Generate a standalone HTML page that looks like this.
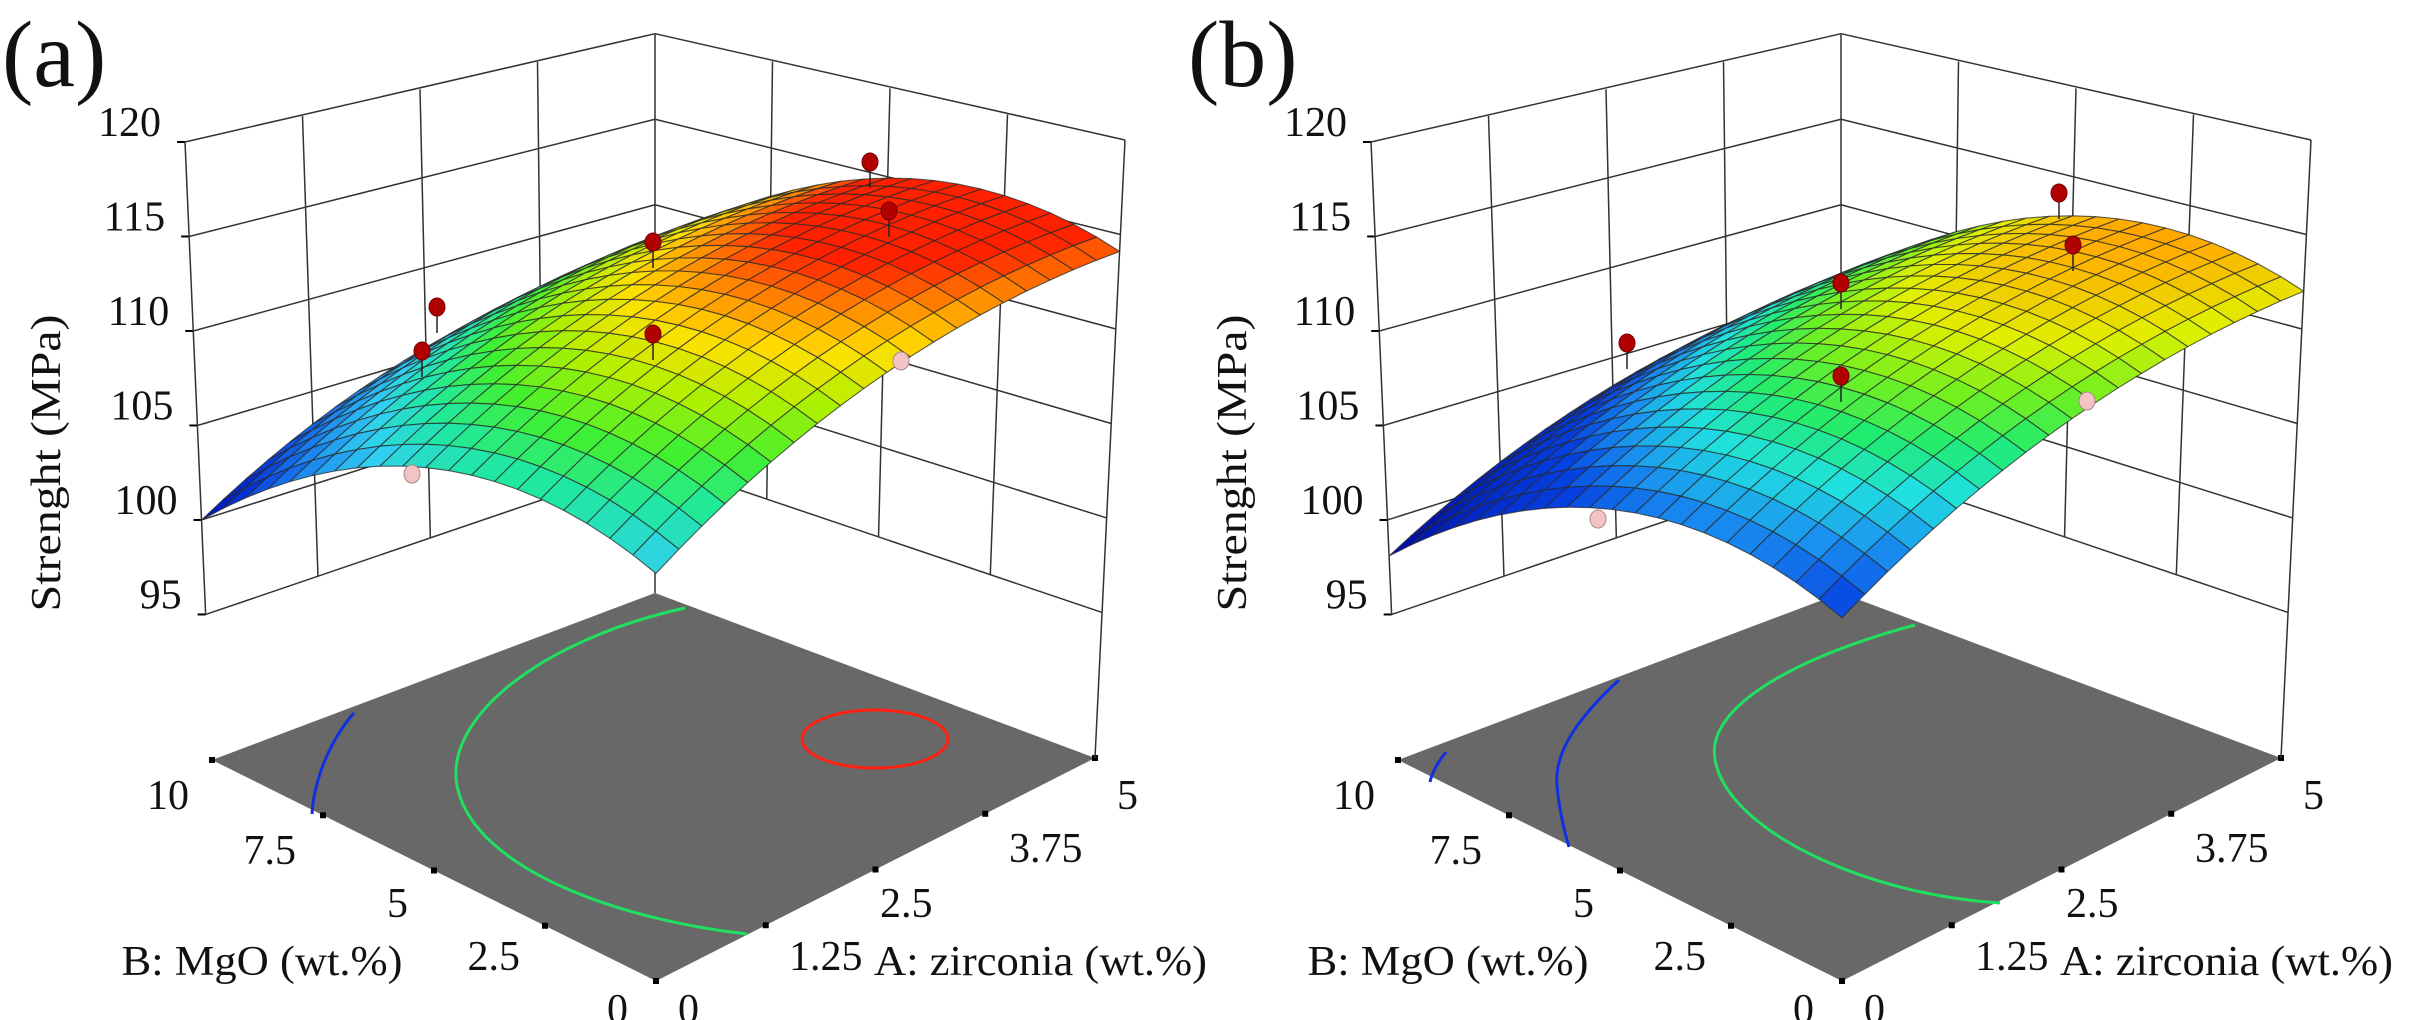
<!DOCTYPE html>
<html><head><meta charset="utf-8"><style>
html,body{margin:0;padding:0;background:#fff;}
svg{display:block;}
text{font-family:"Liberation Serif","DejaVu Serif",serif;fill:#111;}
</style></head><body>
<svg id="s" width="2414" height="1020" viewBox="0 0 2414 1020" xmlns="http://www.w3.org/2000/svg" font-family="Liberation Serif, DejaVu Serif, serif">
<g id="pa">
<text x="2" y="86" font-size="94">(a)</text>
<text x="262" y="975" font-size="42" text-anchor="middle" textLength="281" lengthAdjust="spacingAndGlyphs">B: MgO (wt.%)</text>
<text x="874" y="975" font-size="42" textLength="333" lengthAdjust="spacingAndGlyphs">A: zirconia (wt.%)</text>
<text transform="translate(60,463) rotate(-90)" font-size="42" text-anchor="middle" textLength="297" lengthAdjust="spacingAndGlyphs">Strenght (MPa)</text>
<text x="628" y="1023" font-size="42" text-anchor="end">0</text>
<text x="520" y="970" font-size="42" text-anchor="end">2.5</text>
<text x="408" y="917" font-size="42" text-anchor="end">5</text>
<text x="296" y="864" font-size="42" text-anchor="end">7.5</text>
<text x="189" y="809" font-size="42" text-anchor="end">10</text>
<text x="678" y="1023" font-size="42">0</text>
<text x="789" y="970" font-size="42">1.25</text>
<text x="880" y="917" font-size="42">2.5</text>
<text x="1009" y="862" font-size="42">3.75</text>
<text x="1117" y="809" font-size="42">5</text>
</g>
<g id="pb" transform="translate(1186,0)">
<text x="2" y="86" font-size="94">(b)</text>
<text x="262" y="975" font-size="42" text-anchor="middle" textLength="281" lengthAdjust="spacingAndGlyphs">B: MgO (wt.%)</text>
<text x="874" y="975" font-size="42" textLength="333" lengthAdjust="spacingAndGlyphs">A: zirconia (wt.%)</text>
<text transform="translate(60,463) rotate(-90)" font-size="42" text-anchor="middle" textLength="297" lengthAdjust="spacingAndGlyphs">Strenght (MPa)</text>
<text x="628" y="1023" font-size="42" text-anchor="end">0</text>
<text x="520" y="970" font-size="42" text-anchor="end">2.5</text>
<text x="408" y="917" font-size="42" text-anchor="end">5</text>
<text x="296" y="864" font-size="42" text-anchor="end">7.5</text>
<text x="189" y="809" font-size="42" text-anchor="end">10</text>
<text x="678" y="1023" font-size="42">0</text>
<text x="789" y="970" font-size="42">1.25</text>
<text x="880" y="917" font-size="42">2.5</text>
<text x="1009" y="862" font-size="42">3.75</text>
<text x="1117" y="809" font-size="42">5</text>
</g>
</svg>
<script>
(function(){
var NS="http://www.w3.org/2000/svg";
var F=[656,981],L=[212,760],R=[1095,758],K=[655,593];
function fl(A,B){var a=A/5,b=B/10;
 return [(1-a)*(1-b)*F[0]+(1-a)*b*L[0]+a*(1-b)*R[0]+a*b*K[0],
         (1-a)*(1-b)*F[1]+(1-a)*b*L[1]+a*(1-b)*R[1]+a*b*K[1]];}
function P(A,B,z){var f=fl(A,B),a=A/5,b=B/10,u=(a+b)/2,s=18.9/(0.895+0.21*u),h=z-87.3;
 var dx=(-27*b*(1-a)+30*a*(1-b))*h/32.7;return [f[0]+dx,f[1]-h*s];}
function el(g,n,at){var e=document.createElementNS(NS,n);for(var k in at)e.setAttribute(k,at[k]);g.appendChild(e);return e;}
function hex(c){return [parseInt(c.substr(1,2),16),parseInt(c.substr(3,2),16),parseInt(c.substr(5,2),16)];}
function cmap(stops,z){if(z<=stops[0][0])return stops[0][1];var n=stops.length;if(z>=stops[n-1][0])return stops[n-1][1];
 for(var i=0;i<n-1;i++){if(z>=stops[i][0]&&z<=stops[i+1][0]){var t=(z-stops[i][0])/(stops[i+1][0]-stops[i][0]);var c1=hex(stops[i][1]),c2=hex(stops[i+1][1]);
 return "rgb("+Math.round(c1[0]+(c2[0]-c1[0])*t)+","+Math.round(c1[1]+(c2[1]-c1[1])*t)+","+Math.round(c1[2]+(c2[2]-c1[2])*t)+")";}}}
function pts(a){return a.map(function(p){return p[0].toFixed(1)+","+p[1].toFixed(1);}).join(" ");}
function line(g,p,q,w,c){el(g,"line",{x1:p[0],y1:p[1],x2:q[0],y2:q[1],stroke:c||"#333","stroke-width":w||1.5});}
function panel(id,fz,stops,contours,reds,pinks){
 var g=document.getElementById(id);
 var bg=document.createElementNS(NS,"g");
 var sg=document.createElementNS(NS,"g");
 g.insertBefore(sg,g.firstChild);g.insertBefore(bg,sg);
 el(bg,"polygon",{points:pts([F,L,K,R]),fill:"#686868"});
 contours.forEach(function(c){el(bg,"path",{d:c[0],fill:"none",stroke:c[1],"stroke-width":3});});
 [2.5,5,7.5].forEach(function(B){var p=fl(0,B);el(bg,"rect",{x:p[0]-3,y:p[1]-3,width:6,height:6,fill:"#000"});});
 [1.25,2.5,3.75].forEach(function(A){var p=fl(A,0);el(bg,"rect",{x:p[0]-3,y:p[1]-3,width:6,height:6,fill:"#000"});});
 [F,L,R].forEach(function(p){el(bg,"rect",{x:p[0]-3,y:p[1]-3,width:6,height:6,fill:"#000"});});
 var z;
 for(z=95;z<=120;z+=5){line(bg,P(0,10,z),P(5,10,z));line(bg,P(5,10,z),P(5,0,z));
   var p=P(0,10,z);line(bg,p,[p[0]-8,p[1]],2,"#000");
   var t=el(bg,"text",{x:p[0]-24,y:p[1]-6,"font-size":42,"text-anchor":"end","font-family":"Liberation Serif, DejaVu Serif, serif"});t.textContent=String(z);}
 [0,1.25,2.5,3.75].forEach(function(A){line(bg,P(A,10,95),P(A,10,120));});
 [2.5,5,7.5].forEach(function(B){line(bg,P(5,B,95),P(5,B,120));});
 line(bg,P(5,10,87.3),P(5,10,120));line(bg,P(5,0,87.3),P(5,0,120));
 var N=20,q=[];
 for(var ia=0;ia<N;ia++)for(var ib=0;ib<N;ib++){
  var A0=5*ia/N,A1=5*(ia+1)/N,B0=10*ib/N,B1=10*(ib+1)/N;
  var zc=fz((A0+A1)/2,(B0+B1)/2);
  q.push({u:(A0+A1)/10+(B0+B1)/20,p:[P(A0,B0,fz(A0,B0)),P(A1,B0,fz(A1,B0)),P(A1,B1,fz(A1,B1)),P(A0,B1,fz(A0,B1))],c:cmap(stops,zc)});}
 q.sort(function(a,b){return b.u-a.u;});
 q.forEach(function(o){el(sg,"polygon",{points:pts(o.p),fill:o.c,stroke:"#2a2a2a","stroke-width":1.1,"stroke-opacity":0.75,"stroke-linejoin":"round"});});
 reds.forEach(function(p){line(sg,[p[0],p[1]],[p[0],p[1]+26],1.5,"#222");el(sg,"ellipse",{cx:p[0],cy:p[1],rx:8,ry:9,fill:"#b00000",stroke:"#700","stroke-width":1});});
 pinks.forEach(function(p){el(sg,"ellipse",{cx:p[0],cy:p[1],rx:8,ry:9,fill:"#f4c4c4",stroke:"#a88","stroke-width":1});});
}
var fa=function(A,B){return 106.6+3*A-0.3*A*A+1.02*B-0.168*B*B;};
var fb=function(A,B){return 104.5+2.82*A-0.264*A*A+1.0*B-0.164*B*B;};
var sa=[[99.5,"#0008a0"],[102,"#0530d8"],[104.5,"#1a80f0"],[106.8,"#30d0f0"],[108.5,"#20e8a0"],[110,"#40f030"],[111.5,"#b0f000"],[112.8,"#ffe000"],[113.8,"#ff9000"],[114.8,"#ff2000"]];
var sb=[[98,"#0008a0"],[104.8,"#0540e0"],[106.5,"#1a90f0"],[108,"#20e0e0"],[109.3,"#20ec70"],[110.5,"#70f020"],[111.8,"#e0f000"],[113.3,"#ffb000"],[114,"#ff9000"]];
panel("pa",fa,sa,
 [["M354,713 C330,740 314,780 312,814","#1030e0"],
  ["M685,608 C540,640 440,720 458,790 C478,870 620,920 747,934","#20e060"],
  ["M802,739 A73,29 0 1 0 948,739 A73,29 0 1 0 802,739","#ff2010"]],
 [[870,162],[889,211],[653,242],[653,334],[437,307],[422,351]],
 [[901,361],[412,474]]);
panel("pb",fb,sb,
 [["M433,680 C395,715 368,750 371,785 C373,810 378,830 383,847","#1030e0"],
  ["M260,752 C252,762 246,772 244,782","#1030e0"],
  ["M729,625 C600,660 520,710 529,759 C540,830 680,895 814,903","#20e060"]],
 [[873,193],[887,245],[655,283],[655,376],[441,343]],
 [[901,401],[412,519]]);
})();
</script>
</body></html>
